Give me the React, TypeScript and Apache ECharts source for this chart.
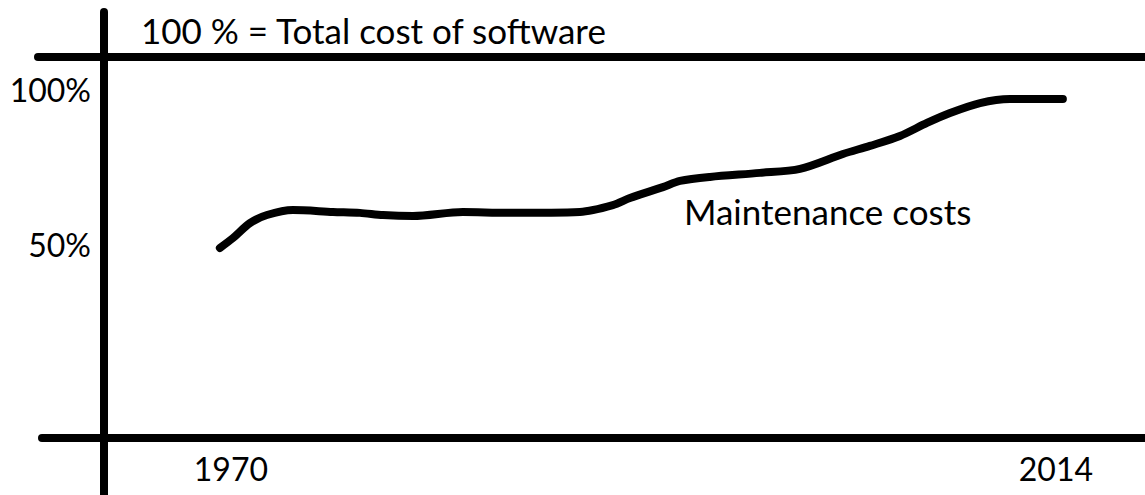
import React, { useEffect, useRef } from "react";
import * as echarts from "echarts";

const years = [1969.41, 1970.11, 1971.01, 1971.92, 1973.31, 1975.44, 1976.88, 1978.11, 1979.71, 1982.37, 1984.72, 1988.61, 1990.37, 1991.28, 1993.04, 1993.95, 1995.55, 1998.21, 2000.35, 2002.64, 2004.08, 2005.68, 2007.12, 2008.35, 2009.95, 2011.55, 2014.37];
const maintenance = [48.9, 52.1, 56.9, 59.5, 61.1, 60.5, 60.2, 59.5, 59.2, 60.5, 60.2, 60.5, 62.7, 65.0, 68.5, 70.5, 71.8, 73.1, 74.4, 79.2, 81.8, 85.0, 89.2, 92.4, 95.6, 96.9, 96.9];
const xTickLabels = [1970, 2014];
const yTickLabels = [50, 100];
const titleText = "100 % = Total cost of software";
const seriesLabel = "Maintenance costs";

const FONT = "Lato";
const FS = 32;
const FS_TEXT = 35;

export default function App() {
  const ref = useRef<HTMLDivElement>(null);
  useEffect(() => {
    if (!ref.current) return;
    const chart = echarts.init(ref.current, undefined, { renderer: "svg" });
    const data = years.map((y, i) => [y, maintenance[i]]);
    const lineStyle = { stroke: "#000", lineWidth: 8, lineCap: "round" };
    chart.setOption({
      animation: false,
      backgroundColor: "#fff",
      grid: { left: 104, right: 0, top: 57, bottom: 57, containLabel: false },
      xAxis: {
        type: "value",
        min: 1963.23,
        max: 2018.75,
        axisLine: { show: false },
        axisTick: { show: false },
        splitLine: { show: false },
        axisLabel: {
          customValues: xTickLabels,
          formatter: (v: number) => String(v),
          color: "#000",
          fontFamily: FONT,
          fontSize: FS,
          margin: 14,
        },
      },
      yAxis: {
        type: "value",
        min: -12.42,
        max: 110.48,
        axisLine: { show: false },
        axisTick: { show: false },
        splitLine: { show: false },
        axisLabel: {
          customValues: yTickLabels,
          formatter: (v: number) => v + "%",
          color: "#000",
          fontFamily: FONT,
          fontSize: FS,
          margin: 13,
        },
      },
      series: [
        {
          type: "line",
          name: seriesLabel,
          data,
          smooth: 0.3,
          showSymbol: false,
          lineStyle: { color: "#000", width: 8, cap: "round", join: "round" },
        },
      ],
      graphic: [
        { type: "line", shape: { x1: 104, y1: 12, x2: 104, y2: 500 }, style: lineStyle, z: 10 },
        { type: "line", shape: { x1: 38, y1: 57, x2: 1150, y2: 57 }, style: lineStyle, z: 10 },
        { type: "line", shape: { x1: 42, y1: 438, x2: 1150, y2: 438 }, style: lineStyle, z: 10 },
        {
          type: "text",
          left: 141,
          top: 12,
          style: { text: titleText, fill: "#000", font: `${FS_TEXT}px ${FONT}` },
        },
        {
          type: "text",
          left: 684,
          top: 193,
          style: { text: seriesLabel, fill: "#000", font: `${FS_TEXT}px ${FONT}` },
        },
      ],
    });
    return () => chart.dispose();
  }, []);
  return (
    <div
      ref={ref}
      style={{ position: "fixed", left: 0, top: 0, width: 1145, height: 495 }}
    />
  );
}
